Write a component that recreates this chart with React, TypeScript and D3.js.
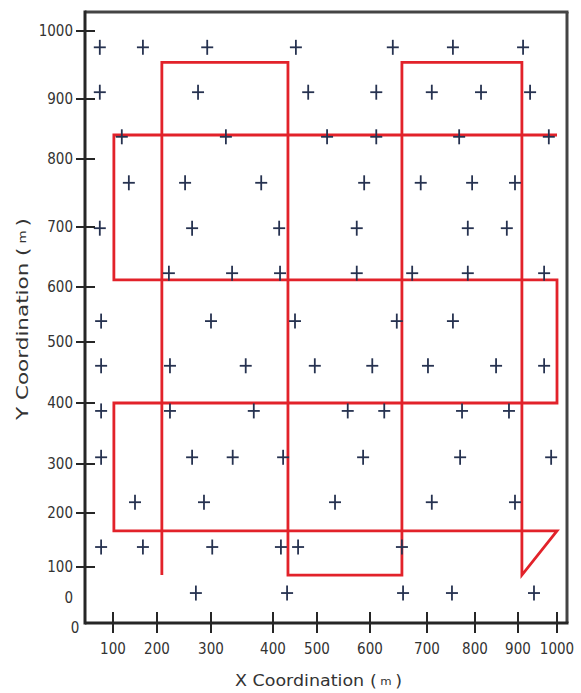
import React from "react";
import * as d3 from "d3";

// Axis tick values (the axes are non-uniform, so each tick gets its own stop)
const xTickValues = [100, 200, 300, 400, 500, 600, 700, 800, 900, 1000];
const yTickValues = [0, 100, 200, 300, 400, 500, 600, 700, 800, 900, 1000];

// Sensor node positions (m)
const nodeX = [
  70, 168, 293, 452, 640, 754, 913,
  70, 276, 480, 611, 710, 814, 931,
  120, 324, 519, 611, 767, 979,
  136, 252, 381, 589, 689, 794, 893,
  70, 265, 414, 575, 785, 874,
  222, 334, 416, 575, 674, 785, 967,
  73, 300, 450, 647, 754,
  73, 224, 356, 495, 604, 702, 849, 967,
  73, 224, 369, 558, 625, 773, 879,
  73, 265, 335, 423, 587, 769, 985,
  150, 287, 534, 710, 893,
  73, 168, 302, 418, 457, 656,
  272, 432, 658, 752, 941,
];
const nodeY = [
  976, 976, 976, 976, 976, 976, 976,
  910, 910, 910, 910, 910, 910, 910,
  837, 837, 837, 837, 837, 837,
  765, 765, 765, 765, 765, 765, 765,
  698, 698, 698, 698, 698, 698,
  623, 623, 623, 623, 623, 623, 623,
  538, 538, 538, 538, 538,
  461, 461, 461, 461, 461, 461, 461, 461,
  387, 387, 387, 387, 387, 387, 387,
  311, 311, 311, 311, 311, 311, 311,
  222, 222, 222, 222, 222,
  137, 137, 137, 137, 137, 137,
  16, 16, 16, 16, 16,
];

// Flight path waypoints (m)
const pathX = [209, 209, 434, 434, 656, 656, 910, 910, 1000, 102, 102, 1000, 1000, 102, 102, 1000];
const pathY = [74, 954, 954, 74, 74, 954, 954, 74, 167, 167, 400, 400, 612, 612, 840, 840];

const W = 581;
const H = 693;
const left = 85;
const right = 567;
const top = 12;
const bottom = 623;

const TICK_FONT = "'DejaVu Sans Condensed', 'Liberation Sans Narrow', 'DejaVu Sans', sans-serif";
const TITLE_FONT = "'DejaVu Sans', 'Noto Sans', sans-serif";

export default function App() {
  // piecewise-linear scales: one stop per tick
  const x = d3
    .scaleLinear()
    .domain(xTickValues)
    .range([113, 157, 211, 273, 317, 370, 427, 475, 518, 557]);
  const y = d3
    .scaleLinear()
    .domain(yTickValues)
    .range([598, 567, 513, 464, 403, 342, 287, 227, 159, 99, 31]);

  const nodes = nodeX.map((v, i) => [v, nodeY[i]] as [number, number]);
  const route = pathX.map((v, i) => [v, pathY[i]] as [number, number]);
  const line = d3
    .line<[number, number]>()
    .x((d) => x(d[0]))
    .y((d) => y(d[1]));

  const axisColor = "#262626";
  const textColor = "#333";
  const markColor = "#263250";

  return (
    <svg
      width={W}
      height={H}
      style={{ position: "absolute", left: 0, top: 0, background: "#fff" }}
      fontFamily={TICK_FONT}
    >
      {/* frame */}
      <line x1={left} x2={right + 1.5} y1={top} y2={top} stroke="#444" strokeWidth={3} />
      <line x1={right} x2={right} y1={top} y2={bottom} stroke="#444" strokeWidth={3} />

      {/* flight path */}
      <path d={line(route) ?? ""} fill="none" stroke="#e2222a" strokeWidth={2.8} strokeLinejoin="miter" />

      {/* sensor nodes */}
      <g stroke={markColor} strokeWidth={1.8}>
        {nodes.map((d, i) => {
          const cx = x(d[0]);
          const cy = y(d[1]);
          return (
            <g key={i}>
              <line x1={cx - 6} x2={cx + 6} y1={cy} y2={cy} />
              <line x1={cx} x2={cx} y1={cy - 7.5} y2={cy + 7.5} />
            </g>
          );
        })}
      </g>

      {/* axes */}
      <line x1={left} x2={left} y1={top - 1.5} y2={bottom + 1.5} stroke={axisColor} strokeWidth={3} />
      <line x1={left} x2={right + 1.5} y1={bottom} y2={bottom} stroke={axisColor} strokeWidth={3} />

      {/* y ticks */}
      {yTickValues.map((t) => (
        <g key={"y" + t}>
          {t !== 0 && (
            <line x1={left - 9} x2={left + 10} y1={y(t)} y2={y(t)} stroke={axisColor} strokeWidth={2} />
          )}
          <text
            x={left - 12}
            y={y(t)}
            textAnchor="end"
            dominantBaseline="central"
            fontSize={15}
            fill={textColor}
          >
            {t}
          </text>
        </g>
      ))}

      {/* x ticks */}
      {xTickValues.map((t) => (
        <g key={"x" + t}>
          <line x1={x(t)} x2={x(t)} y1={bottom - 11} y2={bottom + 10} stroke={axisColor} strokeWidth={2} />
          <text x={x(t)} y={649} textAnchor="middle" dominantBaseline="central" fontSize={15} fill={textColor}>
            {t}
          </text>
        </g>
      ))}
      <text x={left - 10} y={628} textAnchor="middle" dominantBaseline="central" fontSize={15} fill={textColor}>
        0
      </text>

      {/* axis titles */}
      <text
        x={235}
        y={681}
        dominantBaseline="central"
        fontSize={15}
        fontFamily={TITLE_FONT}
        fill={textColor}
        textLength={167}
        lengthAdjust="spacingAndGlyphs"
      >
        X Coordination
        <tspan dx={5}>(</tspan>
        <tspan dx={3} fontSize={10}>m</tspan>
        <tspan dx={3}>)</tspan>
      </text>
      <text
        transform={`translate(22,420) rotate(-90)`}
        dominantBaseline="central"
        fontSize={16}
        fontFamily={TITLE_FONT}
        fill={textColor}
        textLength={202}
        lengthAdjust="spacingAndGlyphs"
      >
        Y Coordination
        <tspan dx={5}>(</tspan>
        <tspan dx={3} fontSize={10}>m</tspan>
        <tspan dx={3}>)</tspan>
      </text>
    </svg>
  );
}
